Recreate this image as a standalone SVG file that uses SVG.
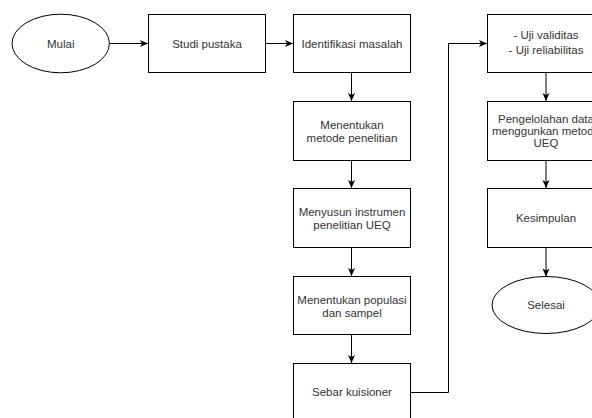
<svg xmlns="http://www.w3.org/2000/svg" width="592" height="418" viewBox="0 0 592 418">
<style>
.box{fill:#fff;stroke:#000;stroke-width:1}
.t{font-family:"Liberation Sans",Arial,sans-serif;font-size:11.5px;fill:#333;text-anchor:middle}
.c{fill:none;stroke:#000;stroke-width:1}
</style>
<defs>
<marker id="ah" viewBox="0 0 8 8" refX="8" refY="4" markerWidth="8" markerHeight="8" markerUnits="userSpaceOnUse" orient="auto">
<path d="M0,0.5 L8,4 L0,7.5 L2,4 Z" fill="#000"/>
</marker>
</defs>
<rect width="592" height="418" fill="#fff"/>
<g id="connectors">
<path class="c" d="M109.5,43.5 H148" marker-end="url(#ah)"/>
<path class="c" d="M265.5,43.5 H293" marker-end="url(#ah)"/>
<path class="c" d="M351.5,72.5 V101" marker-end="url(#ah)"/>
<path class="c" d="M351.5,160.5 V188" marker-end="url(#ah)"/>
<path class="c" d="M351.5,247.5 V276" marker-end="url(#ah)"/>
<path class="c" d="M351.5,334.5 V363" marker-end="url(#ah)"/>
<path class="c" d="M410.5,392.5 H448.5 V43.5 H487" marker-end="url(#ah)"/>
<path class="c" d="M546,72.5 V101" marker-end="url(#ah)"/>
<path class="c" d="M546,160.5 V188" marker-end="url(#ah)"/>
<path class="c" d="M546,247.5 V276.5" marker-end="url(#ah)"/>
</g>
<g id="mulai">
<ellipse class="box" cx="60.7" cy="43.5" rx="48.7" ry="29.3"/>
<text class="t" x="60.7" y="47.5">Mulai</text>
</g>
<g id="studi-pustaka">
<rect class="box" x="148.5" y="14.5" width="117" height="58"/>
<text class="t" x="207" y="47.5">Studi pustaka</text>
</g>
<g id="identifikasi-masalah">
<rect class="box" x="293.5" y="14.5" width="117" height="58"/>
<text class="t" x="352" y="47.5">Identifikasi masalah</text>
</g>
<g id="menentukan-metode">
<rect class="box" x="293.5" y="101.5" width="117" height="59"/>
<text class="t" x="352" y="129">Menentukan</text>
<text class="t" x="352" y="142">metode penelitian</text>
</g>
<g id="menyusun-instrumen">
<rect class="box" x="293.5" y="188.5" width="117" height="59"/>
<text class="t" x="352" y="216">Menyusun instrumen</text>
<text class="t" x="352" y="229">penelitian UEQ</text>
</g>
<g id="menentukan-populasi">
<rect class="box" x="293.5" y="276.5" width="117" height="58"/>
<text class="t" x="352" y="303.5">Menentukan populasi</text>
<text class="t" x="352" y="316.5">dan sampel</text>
</g>
<g id="sebar-kuisioner">
<rect class="box" x="293.5" y="363.5" width="117" height="58"/>
<text class="t" x="352" y="396">Sebar kuisioner</text>
</g>
<g id="uji">
<rect class="box" x="487.5" y="14.5" width="117" height="58"/>
<text class="t" x="546" y="39">- Uji validitas</text>
<text class="t" x="546" y="53.5">- Uji reliabilitas</text>
</g>
<g id="pengelolahan">
<rect class="box" x="487.5" y="101.5" width="117" height="59"/>
<text class="t" x="546" y="123">Pengelolahan data</text>
<text class="t" x="546" y="135">menggunkan metode</text>
<text class="t" x="546" y="147">UEQ</text>
</g>
<g id="kesimpulan">
<rect class="box" x="487.5" y="188.5" width="117" height="59"/>
<text class="t" x="546" y="222">Kesimpulan</text>
</g>
<g id="selesai">
<ellipse class="box" cx="546" cy="305" rx="54" ry="28.5"/>
<text class="t" x="546" y="309">Selesai</text>
</g>
</svg>
